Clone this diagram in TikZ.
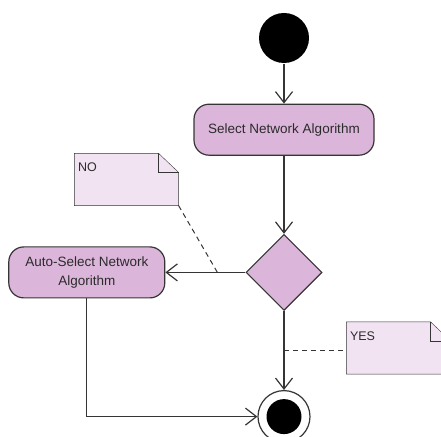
\documentclass[tikz,border=0pt]{standalone}
\usepackage{fontspec}
\setmainfont{Liberation Sans}
\usepackage{tikz}
\usetikzlibrary{positioning}
\usetikzlibrary{calc,arrows.meta}
\usetikzlibrary{shapes.geometric,backgrounds}
\definecolor{act-text}{HTML}{2B2B2B}
\definecolor{act-line}{HTML}{353535}
\definecolor{act-fill}{HTML}{DCB6DA}
\definecolor{note-fill}{HTML}{F2E3F2}

\begin{document}
\begin{tikzpicture}[
    x=1pt, y=1pt,
    font=\fontsize{13.5}{19}\selectfont, % Large sans labels as in the activity view
    >={Straight Barb[length=11pt,width=17pt]},
    line width=1.2pt
  ]

  % Global Style Definitions
  \tikzset{
    action/.style={draw=act-line, fill=act-fill, rounded corners=15pt, minimum height=51pt, align=center, text=act-text},
    decision/.style={draw=act-line, fill=act-fill, diamond, aspect=1, minimum size=76pt, inner sep=0pt},
    initial/.style={circle, fill=black, minimum size=50pt, inner sep=0pt},
    final/.style={circle, draw=act-line, fill=white, minimum size=52pt, inner sep=0pt,
      path picture={\fill[black] (path picture bounding box.center) circle (17.5pt);}},
    note/.style={text width=97pt, text height=15pt, text depth=30pt, inner sep=3pt, align=left, text=act-text, font=\fontsize{12.5}{15}\selectfont},
    notebox/.style={draw=act-line, fill=note-fill},
    flow/.style={->, act-line},
    anchorline/.style={act-line, line width=1pt, dash pattern=on 5pt off 4pt}
  }

  \useasboundingbox (0,0) rectangle (441,436);

  % Start of the activity
  \node (start) [initial] at (284,398) {};

  % Manual choice
  \node (select) [action, minimum width=180pt, below=40pt of start] {Select Network Algorithm};

  % Branch
  \node (dec) [decision, below=78pt of select] {};

  % Automatic choice
  \node (auto) [action, minimum width=156pt, left=80pt of dec] {Auto-Select Network\\Algorithm};

  % End of the activity
  \node (stop) [final, below=79pt of dec] {};

  % Guard notes
  \node (no) [note] at (126.5,256.5) {NO};
  \node (yes) [note] at (398.5,88) {YES};

  \begin{scope}[on background layer]
    \foreach \n in {no,yes} {
      \draw[notebox] (\n.south west) -- (\n.north west) -- ([xshift=-20pt]\n.north east)
        -- ([yshift=-19pt]\n.north east) -- (\n.south east) -- cycle;
      \draw[act-line] ([xshift=-20pt]\n.north east) |- ([yshift=-19pt]\n.north east);
    }
  \end{scope}

  % Control flow
  \draw[flow] (start) -- (select);
  \draw[flow] (select) -- (dec);
  \draw[flow] (dec.west) -- (auto.east);
  \draw[flow] (dec) -- (stop);
  \draw[flow] (auto) |- (stop);

  % Notes attached to the branches
  \coordinate (nohook) at ($(auto.east)!0.65!(dec.west)$);
  \coordinate (yeshook) at ($(dec.south)!0.5!(stop.north)$);
  \draw[anchorline] (no.south east) -- (nohook);
  \draw[anchorline] (yeshook) -- (yeshook -| yes.west);

\end{tikzpicture}
\end{document}
